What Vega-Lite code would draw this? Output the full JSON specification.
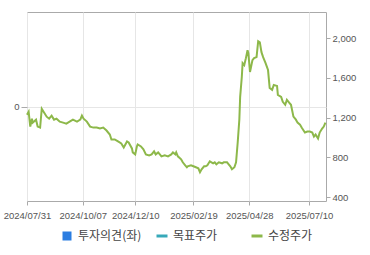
{
  "$schema": "https://vega.github.io/schema/vega-lite/v6.json",
  "width": 299,
  "height": 189,
  "autosize": {"type": "none"},
  "padding": {"left": 27, "top": 12, "right": 44, "bottom": 54},
  "background": "white",
  "config": {
    "view": {"stroke": "#aaaaaa", "strokeWidth": 1},
    "axis": {"labelFont": "Liberation Sans", "labelFontSize": 9.5, "labelColor": "#555555", "tickColor": "#aaaaaa", "gridColor": "#e6e6e6", "domain": false, "title": null}
  },
  "data": {"values": [
    {"date": "2024-07-31", "price": 1230},
    {"date": "2024-08-02", "price": 1260},
    {"date": "2024-08-04", "price": 1110},
    {"date": "2024-08-06", "price": 1190},
    {"date": "2024-08-07", "price": 1150},
    {"date": "2024-08-11", "price": 1180},
    {"date": "2024-08-13", "price": 1110},
    {"date": "2024-08-16", "price": 1100},
    {"date": "2024-08-18", "price": 1290},
    {"date": "2024-08-21", "price": 1250},
    {"date": "2024-08-24", "price": 1210},
    {"date": "2024-08-27", "price": 1190},
    {"date": "2024-08-30", "price": 1220},
    {"date": "2024-09-02", "price": 1180},
    {"date": "2024-09-05", "price": 1190},
    {"date": "2024-09-09", "price": 1160},
    {"date": "2024-09-13", "price": 1150},
    {"date": "2024-09-17", "price": 1140},
    {"date": "2024-09-21", "price": 1160},
    {"date": "2024-09-25", "price": 1180},
    {"date": "2024-09-30", "price": 1160},
    {"date": "2024-10-04", "price": 1180},
    {"date": "2024-10-06", "price": 1220},
    {"date": "2024-10-08", "price": 1190},
    {"date": "2024-10-12", "price": 1160},
    {"date": "2024-10-16", "price": 1110},
    {"date": "2024-10-20", "price": 1100},
    {"date": "2024-10-24", "price": 1100},
    {"date": "2024-10-28", "price": 1090},
    {"date": "2024-11-01", "price": 1100},
    {"date": "2024-11-05", "price": 1070},
    {"date": "2024-11-09", "price": 1030},
    {"date": "2024-11-11", "price": 980},
    {"date": "2024-11-15", "price": 980},
    {"date": "2024-11-19", "price": 960},
    {"date": "2024-11-23", "price": 940},
    {"date": "2024-11-26", "price": 900},
    {"date": "2024-11-30", "price": 960},
    {"date": "2024-12-02", "price": 950},
    {"date": "2024-12-06", "price": 890},
    {"date": "2024-12-07", "price": 850},
    {"date": "2024-12-10", "price": 830},
    {"date": "2024-12-12", "price": 910},
    {"date": "2024-12-13", "price": 930},
    {"date": "2024-12-17", "price": 910},
    {"date": "2024-12-20", "price": 880},
    {"date": "2024-12-23", "price": 830},
    {"date": "2024-12-27", "price": 820},
    {"date": "2024-12-30", "price": 830},
    {"date": "2025-01-02", "price": 860},
    {"date": "2025-01-04", "price": 830},
    {"date": "2025-01-07", "price": 850},
    {"date": "2025-01-11", "price": 810},
    {"date": "2025-01-15", "price": 820},
    {"date": "2025-01-19", "price": 810},
    {"date": "2025-01-23", "price": 830},
    {"date": "2025-01-25", "price": 850},
    {"date": "2025-01-28", "price": 830},
    {"date": "2025-01-29", "price": 850},
    {"date": "2025-01-31", "price": 810},
    {"date": "2025-02-04", "price": 780},
    {"date": "2025-02-06", "price": 750},
    {"date": "2025-02-09", "price": 720},
    {"date": "2025-02-11", "price": 700},
    {"date": "2025-02-12", "price": 710},
    {"date": "2025-02-16", "price": 720},
    {"date": "2025-02-19", "price": 710},
    {"date": "2025-02-22", "price": 700},
    {"date": "2025-02-25", "price": 690},
    {"date": "2025-02-27", "price": 650},
    {"date": "2025-03-01", "price": 680},
    {"date": "2025-03-04", "price": 710},
    {"date": "2025-03-06", "price": 710},
    {"date": "2025-03-08", "price": 720},
    {"date": "2025-03-11", "price": 760},
    {"date": "2025-03-15", "price": 740},
    {"date": "2025-03-17", "price": 750},
    {"date": "2025-03-19", "price": 730},
    {"date": "2025-03-22", "price": 750},
    {"date": "2025-03-26", "price": 740},
    {"date": "2025-03-28", "price": 750},
    {"date": "2025-04-01", "price": 750},
    {"date": "2025-04-03", "price": 730},
    {"date": "2025-04-05", "price": 710},
    {"date": "2025-04-07", "price": 680},
    {"date": "2025-04-10", "price": 700},
    {"date": "2025-04-12", "price": 750},
    {"date": "2025-04-14", "price": 950},
    {"date": "2025-04-16", "price": 1180},
    {"date": "2025-04-17", "price": 1410},
    {"date": "2025-04-19", "price": 1610},
    {"date": "2025-04-20", "price": 1750},
    {"date": "2025-04-22", "price": 1730},
    {"date": "2025-04-24", "price": 1800},
    {"date": "2025-04-26", "price": 1880},
    {"date": "2025-04-27", "price": 1850},
    {"date": "2025-04-29", "price": 1660},
    {"date": "2025-04-30", "price": 1700},
    {"date": "2025-05-02", "price": 1780},
    {"date": "2025-05-04", "price": 1800},
    {"date": "2025-05-07", "price": 1810},
    {"date": "2025-05-09", "price": 1970},
    {"date": "2025-05-11", "price": 1960},
    {"date": "2025-05-13", "price": 1860},
    {"date": "2025-05-15", "price": 1810},
    {"date": "2025-05-18", "price": 1750},
    {"date": "2025-05-21", "price": 1680},
    {"date": "2025-05-23", "price": 1500},
    {"date": "2025-05-26", "price": 1480},
    {"date": "2025-05-28", "price": 1530},
    {"date": "2025-06-01", "price": 1520},
    {"date": "2025-06-02", "price": 1430},
    {"date": "2025-06-06", "price": 1410},
    {"date": "2025-06-08", "price": 1360},
    {"date": "2025-06-11", "price": 1330},
    {"date": "2025-06-13", "price": 1380},
    {"date": "2025-06-16", "price": 1350},
    {"date": "2025-06-18", "price": 1330},
    {"date": "2025-06-21", "price": 1210},
    {"date": "2025-06-24", "price": 1180},
    {"date": "2025-06-26", "price": 1150},
    {"date": "2025-06-29", "price": 1130},
    {"date": "2025-07-01", "price": 1100},
    {"date": "2025-07-05", "price": 1050},
    {"date": "2025-07-08", "price": 1060},
    {"date": "2025-07-11", "price": 1060},
    {"date": "2025-07-14", "price": 1050},
    {"date": "2025-07-16", "price": 1010},
    {"date": "2025-07-18", "price": 1030},
    {"date": "2025-07-21", "price": 990},
    {"date": "2025-07-23", "price": 1050},
    {"date": "2025-07-26", "price": 1090},
    {"date": "2025-07-28", "price": 1110},
    {"date": "2025-07-30", "price": 1150}
  ]},
  "encoding": {
    "x": {
      "field": "date",
      "type": "temporal",
      "scale": {"type": "utc", "domain": [{"year": 2024, "month": 7, "date": 31, "utc": true}, {"year": 2025, "month": 7, "date": 30, "hours": 17, "utc": true}]},
      "axis": {
        "format": "%Y/%m/%d",
        "values": [
          {"year": 2024, "month": 7, "date": 31, "utc": true},
          {"year": 2024, "month": 10, "date": 7, "utc": true},
          {"year": 2024, "month": 12, "date": 10, "utc": true},
          {"year": 2025, "month": 2, "date": 19, "utc": true},
          {"year": 2025, "month": 4, "date": 28, "utc": true},
          {"year": 2025, "month": 7, "date": 10, "utc": true}
        ],
        "grid": true,
        "tickSize": 4,
        "labelPadding": 5,
        "labelFlush": false,
        "labelOverlap": false
      }
    }
  },
  "layer": [
    {
      "mark": {"type": "point", "opacity": 0},
      "encoding": {
        "y": {
          "field": "opinion",
          "type": "quantitative",
          "scale": {"domain": [-1, 1]},
          "axis": {"orient": "left", "values": [0], "grid": true, "tickSize": 6, "labelPadding": 2}
        }
      }
    },
    {
      "mark": {"type": "line", "strokeWidth": 2, "interpolate": "linear"},
      "encoding": {
        "y": {
          "field": "price",
          "type": "quantitative",
          "scale": {"domain": [360, 2265], "nice": false, "zero": false},
          "axis": {"orient": "right", "values": [400, 800, 1200, 1600, 2000], "format": ",d", "grid": false, "tickSize": 4, "labelPadding": 2}
        },
        "color": {
          "datum": "수정주가",
          "type": "nominal",
          "scale": {"domain": ["투자의견(좌)", "목표주가", "수정주가"], "range": ["#2b7de1", "#37a9b9", "#8db84a"]},
          "legend": {
            "title": null,
            "orient": "none",
            "legendX": 34,
            "legendY": 218,
            "direction": "horizontal",
            "gridAlign": "all",
            "columnPadding": 8,
            "padding": 0,
            "symbolSize": 121,
            "symbolStrokeWidth": 3,
            "labelOffset": 5,
            "labelFont": "Noto Sans CJK KR",
            "labelFontSize": 12,
            "labelColor": "#444444",
            "encode": {
              "symbols": {
                "update": {
                  "shape": {"signal": "datum.value === '투자의견(좌)' ? 'square' : 'stroke'"},
                  "size": {"signal": "datum.value === '투자의견(좌)' ? 81 : 121"},
                  "fill": {"signal": "datum.value === '투자의견(좌)' ? '#2b7de1' : 'transparent'"},
                  "strokeWidth": {"signal": "datum.value === '투자의견(좌)' ? 0 : 3"}
                }
              }
            }
          }
        }
      }
    }
  ],
  "resolve": {"scale": {"y": "independent"}}
}
